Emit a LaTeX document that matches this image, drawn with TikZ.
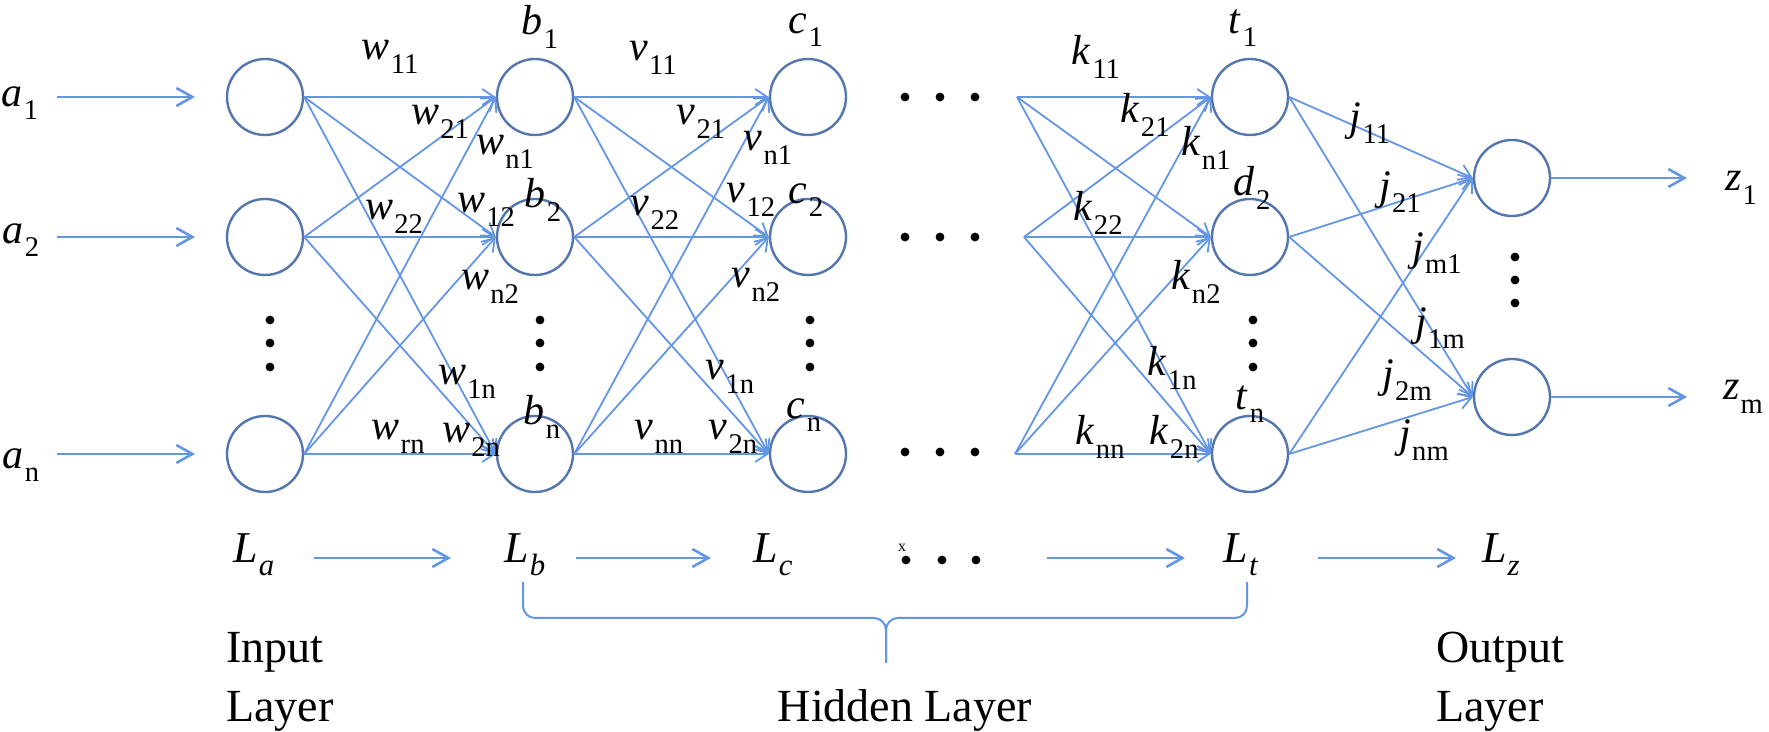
\documentclass[tikz,border=0pt]{standalone}
\usepackage{fontspec}
\setmainfont{Liberation Serif}
\usetikzlibrary{arrows.meta}
\definecolor{edgeblue}{RGB}{100,150,228}
\definecolor{nodeblue}{RGB}{84,118,174}
\newcommand{\wlab}[2]{\textit{#1}\kern0.03em\raisebox{-0.32em}{\scalebox{0.68}{#2}}}
\newcommand{\llab}[2]{\textit{#1}\kern0.02em\raisebox{-0.28em}{\scalebox{0.7}{\textit{#2}}}}
\begin{document}
\begin{tikzpicture}[x=0.5pt,y=-0.5pt,
  neuron/.style={draw=nodeblue,circle,line width=1.2pt,minimum size=38pt,inner sep=0pt},
  conn/.style={draw=edgeblue,line width=0.9pt,-{Straight Barb[length=6pt,width=8pt]}},
  inarr/.style={draw=edgeblue,line width=1.3pt,-{Straight Barb[length=8pt,width=9pt]}},
  lab/.style={inner sep=0pt,font=\fontsize{21}{24}\selectfont},
  llabel/.style={inner sep=0pt,anchor=base,font=\fontsize{22}{25}\selectfont},
  txt/.style={inner sep=0pt,anchor=base west,font=\fontsize{23}{27}\selectfont},
  brace/.style={draw=edgeblue,line width=1pt,rounded corners=6pt}]
\useasboundingbox (0,0) rectangle (1769,732);

% neurons
\node[neuron] (a1) at (265,97) {};
\node[neuron] (a2) at (265,237) {};
\node[neuron] (an) at (265,454) {};
\node[neuron] (b1) at (535,97) {};
\node[neuron] (b2) at (535,237) {};
\node[neuron] (bn) at (535,454) {};
\node[neuron] (c1) at (808,97) {};
\node[neuron] (c2) at (808,237) {};
\node[neuron] (cn) at (808,454) {};
\node[neuron] (t1) at (1250,97) {};
\node[neuron] (t2) at (1250,237) {};
\node[neuron] (tn) at (1250,454) {};
\node[neuron] (o1) at (1512,178) {};
\node[neuron] (om) at (1512,397) {};

% start points of the last hidden connections
\coordinate (k1) at (1017,97);
\coordinate (k2) at (1024,237);
\coordinate (kn) at (1015,454);

% inputs
\node[lab] (la1) at (20,103) {\wlab{a}{1}};
\node[lab] (la2) at (21,240) {\wlab{a}{2}};
\node[lab] (lan) at (21,465) {\wlab{a}{n}};
\coordinate (ia1) at (57,97);  \coordinate (ea1) at (195,97);
\coordinate (ia2) at (57,237); \coordinate (ea2) at (195,237);
\coordinate (ian) at (57,454); \coordinate (ean) at (195,454);
\draw[inarr] (ia1) -- (ea1);
\draw[inarr] (ia2) -- (ea2);
\draw[inarr] (ian) -- (ean);

% outputs
\coordinate (ez1) at (1687,178);
\coordinate (ezm) at (1687,397);
\draw[inarr] (o1.east) -- (ez1);
\draw[inarr] (om.east) -- (ezm);
\node[lab] (lz1) at (1741,188) {\wlab{z}{1}};
\node[lab] (lzm) at (1743,397) {\wlab{z}{m}};

% connections
\foreach \s in {a1,a2,an}{\foreach \t in {b1,b2,bn}{\draw[conn] (\s.east) -- (\t.west);}}
\foreach \s in {b1,b2,bn}{\foreach \t in {c1,c2,cn}{\draw[conn] (\s.east) -- (\t.west);}}
\foreach \s in {k1,k2,kn}{\foreach \t in {t1,t2,tn}{\draw[conn] (\s) -- (\t.west);}}
\foreach \s in {t1,t2,tn}{\foreach \t in {o1,om}{\draw[conn] (\s.east) -- (\t.west);}}

% neuron labels
\node[lab] (lb1) at (540,27) {\wlab{b}{1}};
\node[lab] (lb2) at (543,200) {\wlab{b}{2}};
\node[lab] (lbn) at (542,417) {\wlab{b}{n}};
\node[lab] (lc1) at (806,30) {\wlab{c}{1}};
\node[lab] (lc2) at (806,200) {\wlab{c}{2}};
\node[lab] (lcn) at (804,415) {\wlab{c}{n}};
\node[lab] (lt1) at (1243,28) {\wlab{t}{1}};
\node[lab] (ld2) at (1252,188) {\wlab{d}{2}};
\node[lab] (ltn) at (1250,404) {\wlab{t}{n}};

% weight labels
\node[lab] (w11) at (390,57) {\wlab{w}{11}};
\node[lab] (w21) at (440,122) {\wlab{w}{21}};
\node[lab] (wn1) at (505,152) {\wlab{w}{n1}};
\node[lab] (w22) at (394,217) {\wlab{w}{22}};
\node[lab] (w12) at (486,210) {\wlab{w}{12}};
\node[lab] (wn2) at (490,287) {\wlab{w}{n2}};
\node[lab] (w1n) at (467,382) {\wlab{w}{1n}};
\node[lab] (wrn) at (398,437) {\wlab{w}{rn}};
\node[lab] (w2n) at (471,440) {\wlab{w}{2n}};

\node[lab] (v11) at (653,58) {\wlab{v}{11}};
\node[lab] (v21) at (701,122) {\wlab{v}{21}};
\node[lab] (vn1) at (768,148) {\wlab{v}{n1}};
\node[lab] (v22) at (655,213) {\wlab{v}{22}};
\node[lab] (v12) at (751,200) {\wlab{v}{12}};
\node[lab] (vn2) at (756,285) {\wlab{v}{n2}};
\node[lab] (v1n) at (730,377) {\wlab{v}{1n}};
\node[lab] (vnn) at (659,437) {\wlab{v}{nn}};
\node[lab] (v2n) at (733,437) {\wlab{v}{2n}};

\node[lab] (k11) at (1096,57) {\wlab{k}{11}};
\node[lab] (k21) at (1145,115) {\wlab{k}{21}};
\node[lab] (kn1) at (1206,148) {\wlab{k}{n1}};
\node[lab] (k22) at (1098,213) {\wlab{k}{22}};
\node[lab] (kn2) at (1196,282) {\wlab{k}{n2}};
\node[lab] (k1n) at (1172,368) {\wlab{k}{1n}};
\node[lab] (knn) at (1100,437) {\wlab{k}{nn}};
\node[lab] (k2n) at (1174,437) {\wlab{k}{2n}};

\node[lab] (j11) at (1370,123) {\wlab{j}{11}};
\node[lab] (j21) at (1400,192) {\wlab{j}{21}};
\node[lab] (jm1) at (1437,253) {\wlab{j}{m1}};
\node[lab] (j1m) at (1440,328) {\wlab{j}{1m}};
\node[lab] (j2m) at (1407,380) {\wlab{j}{2m}};
\node[lab] (jnm) at (1424,440) {\wlab{j}{nm}};

% vertical dots
\foreach \x in {270,540,810,1253}{\foreach \y in {320,343,367}{\fill (\x,\y) circle[radius=2.2pt];}}
\foreach \y in {257,280,303}{\fill (1515,\y) circle[radius=2.2pt];}
% horizontal dots
\foreach \y in {97,237,452}{\foreach \x in {905,940,975}{\fill (\x,\y) circle[radius=2.2pt];}}

% layer row
\node[llabel] (La) at (254,563) {\llab{L}{a}};
\node[llabel] (Lb) at (525,563) {\llab{L}{b}};
\node[llabel] (Lc) at (773,563) {\llab{L}{c}};
\node[llabel] (Lt) at (1241,563) {\llab{L}{t}};
\node[llabel] (Lz) at (1501,563) {\llab{L}{z}};
\coordinate (r1s) at (314,558); \coordinate (r1e) at (451,558);
\coordinate (r2s) at (576,558); \coordinate (r2e) at (711,558);
\coordinate (r3s) at (1047,558); \coordinate (r3e) at (1185,558);
\coordinate (r4s) at (1318,558); \coordinate (r4e) at (1456,558);
\draw[inarr] (r1s) -- (r1e);
\draw[inarr] (r2s) -- (r2e);
\draw[inarr] (r3s) -- (r3e);
\draw[inarr] (r4s) -- (r4e);
\foreach \x in {906,942,976}{\fill (\x,560) circle[radius=2.2pt];}
\node[inner sep=0pt,font=\fontsize{8}{9}\selectfont] (xmark) at (902,548) {x};

% brace
\coordinate (brl) at (523,582);
\coordinate (brr) at (1247,582);
\coordinate (brt) at (886,663);
\draw[brace] (brl) -- (523,618) -- (886,618) -- (brt);
\draw[brace] (brr) -- (1247,618) -- (886,618) -- (brt);

% layer names
\node[txt] (in1) at (226,663) {Input};
\node[txt] (in2) at (226,722) {Layer};
\node[txt,anchor=base] (hid) at (905,722) {Hidden Layer};
\node[txt] (out1) at (1436,663) {Output};
\node[txt] (out2) at (1436,722) {Layer};
\end{tikzpicture}
\end{document}
